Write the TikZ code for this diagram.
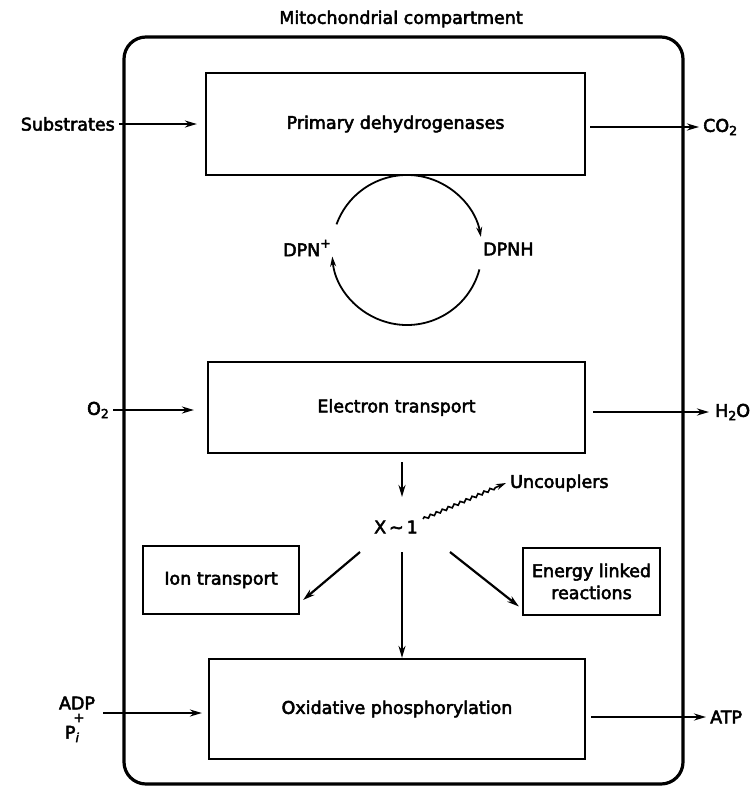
\documentclass[tikz,border=0pt]{standalone}
\usepackage{fontspec}
\setmainfont{DejaVu Sans}[FakeBold=3]
\usetikzlibrary{arrows.meta,decorations.pathmorphing,calc}
\newcommand\mysub[1]{\raisebox{-0.35ex}{\fontsize{12.5}{12.5}\selectfont #1}}
\newcommand\mysup[1]{\raisebox{0.9ex}{\fontsize{12.5}{12.5}\selectfont #1}}
\begin{document}
\begin{tikzpicture}[x=1pt,y=-1pt,
  every node/.style={font=\fontsize{17.5}{22}\selectfont, inner sep=0pt},
  box/.style={draw, line width=2.2pt},
  arr/.style={line width=2.2pt, -{Stealth[length=12pt,width=7pt]}},
  cyc/.style={line width=1.8pt, -{Stealth[length=10pt,width=6pt]}},
  wavy/.style={line width=1.6pt, -{Stealth[length=10pt,width=6pt]}, decorate,
    decoration={snake, amplitude=1.4pt, segment length=6.5pt, post length=9pt}}
]
\useasboundingbox (0,0) rectangle (754,787);

% compartment
\draw[line width=3.2pt, rounded corners=22pt] (124,37) rectangle (683,784);
\node (title) at (401,19) {Mitochondrial compartment};

% boxes
\node[box, minimum width=379pt, minimum height=102pt] (pd) at (395.5,124) {Primary dehydrogenases};
\node[box, minimum width=377pt, minimum height=91pt] (et) at (396.5,407.5) {Electron transport};
\node[box, minimum width=156pt, minimum height=68pt] (ion) at (221,580) {Ion transport};
\node[box, minimum width=137pt, minimum height=67pt, align=center] (en) at (591.5,581.5) {Energy linked\\reactions};
\node[box, minimum width=376pt, minimum height=100pt] (ox) at (397,709) {Oxidative phosphorylation};

% outer labels
\node[anchor=east] (sub) at (115,124) {Substrates};
\node[anchor=west] (co2) at (703,127) {CO\mysub{2}};
\node[anchor=east] (o2) at (109,410) {O\mysub{2}};
\node[anchor=west] (h2o) at (715,412) {H\mysub{2}O};
\node (adp) at (77,703) {ADP};
\node[font=\fontsize{13}{13}\selectfont] (plus) at (79,718) {+};
\node (pi) at (72,734) {P\mysub{\itshape i}};
\node[anchor=west] (atp) at (710,717) {ATP};

% DPN cycle
\node[anchor=east] (dpn) at (331,248) {DPN\mysup{+}};
\node[anchor=west] (dpnh) at (483,249) {DPNH};
\coordinate (cc) at (407,250);
\draw[cyc] ($(cc)+(-160:75)$) arc[start angle=-160, end angle=-10, radius=75];
\draw[cyc] ($(cc)+(15:75)$) arc[start angle=15, end angle=175, radius=75];

% X~I
\node (xi) at (396,527) {X\,∼\,1};
\node[anchor=west] (unc) at (510,483) {Uncouplers};

% arrows
\draw[arr, shorten <=4pt, shorten >=8pt] (sub.east) -- (sub.east -| pd.west);
\draw[arr, shorten <=4pt, shorten >=4pt] (pd.east |- co2.west) -- (co2.west);
\draw[arr, shorten <=4pt, shorten >=13pt] (o2.east) -- (o2.east -| et.west);
\draw[arr, shorten <=7pt, shorten >=6pt] (et.east |- h2o.west) -- (h2o.west);
\coordinate (adpx) at ([xshift=8pt]adp.east);
\draw[arr, shorten >=6pt] ($(adpx |- ox.west)+(0,4)$) -- ($(ox.west)+(0,4)$);
\draw[arr, shorten <=5pt, shorten >=4pt] (ox.east |- atp.west) -- (atp.west);

\coordinate (xtop) at ($(xi)+(6,-65)$);
\draw[arr] (xtop) -- ($(xi)+(6,-30)$);
\draw[wavy] ($(xi.east)+(5,-8)$) -- ($(unc.west)+(-4,0)$);
\draw[arr] ($(xi)+(-36,25)$) -- ($(ion.east)+(3,20)$);
\draw[arr] ($(xi)+(54,25)$) -- ($(en.west)+(-3,25)$);
\coordinate (xs) at ($(xi)+(6,25)$);
\draw[arr] (xs) -- (xs |- ox.north);
\end{tikzpicture}
\end{document}
